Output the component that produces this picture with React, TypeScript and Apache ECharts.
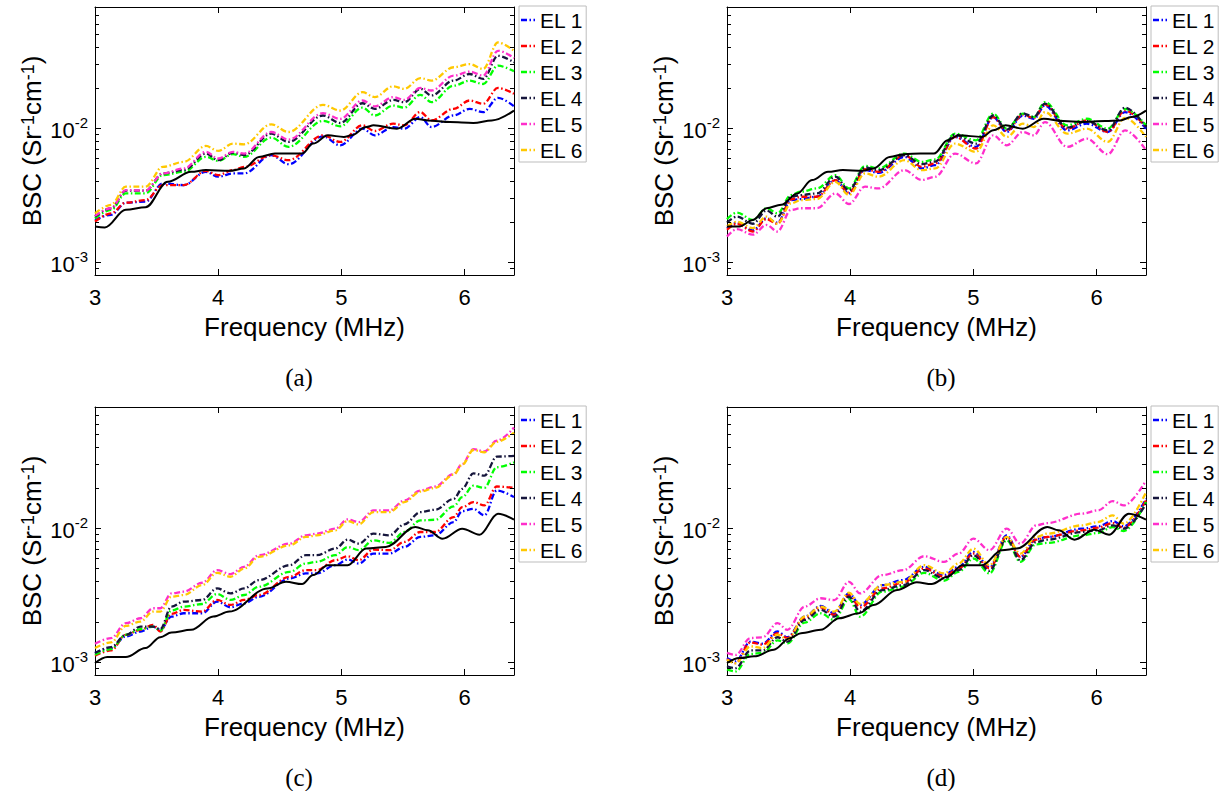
import React, { useEffect, useRef } from 'react';
import * as echarts from 'echarts';

const FONT = '"Liberation Sans", Arial, Helvetica, sans-serif';
const SERIF = '"Liberation Serif", "DejaVu Serif", serif';

const SERIES_NAMES = ['EL 1', 'EL 2', 'EL 3', 'EL 4', 'EL 5', 'EL 6'];
const SERIES_COLORS = ['#0000ff', '#ff0000', '#00ff00', '#16163c', '#ff2ecb', '#ffc800'];
const REF_NAME = 'Reference';
const X_MIN = 3;
const X_MAX = 6.4;
const Y_MIN = 0.0008;
const Y_MAX = 0.08;
const MINOR_TICKS = [9e-4, 2e-3, 3e-3, 4e-3, 5e-3, 6e-3, 7e-3, 8e-3, 9e-3, 2e-2, 3e-2, 4e-2, 5e-2, 6e-2, 7e-2];
const CAPTIONS = ['(a)', '(b)', '(c)', '(d)'];

// ---------- panel (a) ----------
const fA = [3.00, 3.13, 3.25, 3.41, 3.55, 3.72, 3.90, 4.00, 4.12, 4.21, 4.43, 4.57, 4.85, 4.99, 5.17, 5.27, 5.42, 5.51, 5.64, 5.73, 5.91, 6.04, 6.15, 6.27, 6.40];
const A_EL1 = [2.06e-3, 2.25e-3, 2.77e-3, 2.82e-3, 3.86e-3, 3.75e-3, 4.71e-3, 4.33e-3, 4.58e-3, 4.58e-3, 6.27e-3, 5.37e-3, 8.67e-3, 7.43e-3, 9.89e-3, 8.82e-3, 10.17e-3, 9.89e-3, 12.07e-3, 10.17e-3, 12.4e-3, 13.9e-3, 13.15e-3, 16.8e-3, 14.5e-3];
const A_EL2 = [2.00e-3, 2.31e-3, 2.77e-3, 2.90e-3, 3.75e-3, 3.75e-3, 4.79e-3, 4.45e-3, 4.85e-3, 5.13e-3, 6.27e-3, 5.75e-3, 8.82e-3, 7.87e-3, 10.47e-3, 9.50e-3, 10.77e-3, 10.47e-3, 13.15e-3, 11.4e-3, 13.9e-3, 16.05e-3, 15.16e-3, 19.9e-3, 18.0e-3];
const A_EL3 = [2.12e-3, 2.45e-3, 3.25e-3, 3.25e-3, 4.45e-3, 4.71e-3, 6.09e-3, 5.69e-3, 6.38e-3, 6.09e-3, 8.48e-3, 7.23e-3, 11.3e-3, 10.3e-3, 14.2e-3, 12.4e-3, 14.7e-3, 14.2e-3, 17.7e-3, 15.6e-3, 20.7e-3, 22.6e-3, 21.3e-3, 29.2e-3, 26.5e-3];
const A_EL4 = [2.18e-3, 2.52e-3, 3.41e-3, 3.41e-3, 4.58e-3, 4.85e-3, 6.45e-3, 5.75e-3, 6.56e-3, 6.27e-3, 9.08e-3, 7.87e-3, 12.4e-3, 10.9e-3, 15.3e-3, 13.9e-3, 16.2e-3, 15.6e-3, 19.6e-3, 17.5e-3, 22.6e-3, 25.3e-3, 23.25e-3, 34.6e-3, 30.9e-3];
const A_EL5 = [2.21e-3, 2.52e-3, 3.44e-3, 3.41e-3, 4.58e-3, 4.99e-3, 6.64e-3, 5.92e-3, 6.64e-3, 6.45e-3, 9.34e-3, 8.19e-3, 12.9e-3, 11.7e-3, 16.05e-3, 14.5e-3, 17.0e-3, 16.2e-3, 19.9e-3, 19.05e-3, 24.6e-3, 26.35e-3, 24.6e-3, 37.7e-3, 33.3e-3];
const A_EL6 = [2.31e-3, 2.67e-3, 3.65e-3, 3.65e-3, 5.13e-3, 5.59e-3, 7.35e-3, 6.75e-3, 7.65e-3, 7.56e-3, 10.65e-3, 9.34e-3, 14.9e-3, 13.5e-3, 18.5e-3, 17.0e-3, 20.5e-3, 19.6e-3, 23.6e-3, 22.6e-3, 28.4e-3, 30.0e-3, 27.6e-3, 43.5e-3, 37.7e-3];
const fA_ref = [3.00, 3.08, 3.25, 3.41, 3.59, 3.78, 3.90, 4.09, 4.21, 4.33, 4.46, 4.68, 4.77, 4.89, 5.02, 5.08, 5.20, 5.26, 5.45, 5.60, 5.70, 5.88, 6.07, 6.22, 6.40];
const A_REF = [1.84e-3, 1.81e-3, 2.45e-3, 2.56e-3, 3.97e-3, 4.71e-3, 4.85e-3, 4.79e-3, 4.99e-3, 6.09e-3, 6.45e-3, 6.45e-3, 7.65e-3, 8.82e-3, 8.58e-3, 8.82e-3, 10.17e-3, 10.47e-3, 9.89e-3, 11.73e-3, 11.4e-3, 11.08e-3, 10.9e-3, 11.4e-3, 13.5e-3];

// ---------- panel (b) ----------
const fB = [3.00, 3.08, 3.21, 3.32, 3.41, 3.52, 3.60, 3.73, 3.88, 3.99, 4.12, 4.23, 4.44, 4.58, 4.69, 4.85, 5.02, 5.16, 5.27, 5.40, 5.49, 5.58, 5.76, 5.92, 6.09, 6.23, 6.40];
const B_EL1 = [1.79e-3, 1.97e-3, 1.72e-3, 2.12e-3, 1.97e-3, 2.90e-3, 2.95e-3, 3.07e-3, 4.09e-3, 3.25e-3, 4.85e-3, 4.63e-3, 6.09e-3, 4.99e-3, 5.28e-3, 8.58e-3, 7.23e-3, 12.07e-3, 9.34e-3, 12.4e-3, 11.73e-3, 14.7e-3, 9.61e-3, 10.77e-3, 9.34e-3, 13.15e-3, 9.89e-3];
const B_EL2 = [1.74e-3, 1.93e-3, 1.69e-3, 2.09e-3, 1.93e-3, 2.94e-3, 3.07e-3, 3.07e-3, 4.09e-3, 3.29e-3, 4.93e-3, 4.71e-3, 6.27e-3, 5.13e-3, 5.44e-3, 8.58e-3, 7.02e-3, 12.07e-3, 9.50e-3, 12.6e-3, 11.9e-3, 15.0e-3, 9.89e-3, 11.4e-3, 9.34e-3, 13.5e-3, 10.17e-3];
const B_EL3 = [2.09e-3, 2.34e-3, 2.06e-3, 2.52e-3, 2.31e-3, 3.16e-3, 3.35e-3, 3.54e-3, 4.45e-3, 3.54e-3, 5.22e-3, 4.99e-3, 6.45e-3, 5.59e-3, 5.82e-3, 9.08e-3, 8.10e-3, 12.8e-3, 9.89e-3, 12.8e-3, 12.07e-3, 15.6e-3, 10.47e-3, 11.73e-3, 9.89e-3, 13.9e-3, 10.47e-3];
const B_EL4 = [1.97e-3, 2.18e-3, 1.93e-3, 2.42e-3, 2.18e-3, 3.07e-3, 3.16e-3, 3.25e-3, 4.33e-3, 3.44e-3, 5.08e-3, 4.85e-3, 6.27e-3, 5.37e-3, 5.62e-3, 8.92e-3, 7.65e-3, 12.4e-3, 9.72e-3, 12.9e-3, 12.07e-3, 15.2e-3, 10.06e-3, 11.27e-3, 9.61e-3, 14.2e-3, 10.17e-3];
const B_EL5 = [1.55e-3, 1.76e-3, 1.60e-3, 1.89e-3, 1.69e-3, 2.45e-3, 2.52e-3, 2.52e-3, 3.25e-3, 2.71e-3, 3.65e-3, 3.54e-3, 4.85e-3, 4.09e-3, 4.33e-3, 6.45e-3, 5.44e-3, 8.82e-3, 7.43e-3, 9.34e-3, 8.82e-3, 11.08e-3, 7.23e-3, 8.33e-3, 6.38e-3, 9.61e-3, 6.83e-3];
const B_EL6 = [1.84e-3, 2.00e-3, 1.79e-3, 2.18e-3, 1.93e-3, 2.74e-3, 2.90e-3, 2.95e-3, 3.97e-3, 3.16e-3, 4.58e-3, 4.33e-3, 5.75e-3, 4.85e-3, 4.99e-3, 7.65e-3, 6.64e-3, 10.47e-3, 8.58e-3, 10.77e-3, 10.17e-3, 13.15e-3, 9.08e-3, 9.89e-3, 7.87e-3, 11.9e-3, 8.58e-3];
const fB_ref = [3.00, 3.10, 3.21, 3.32, 3.44, 3.57, 3.69, 3.82, 3.94, 4.10, 4.19, 4.32, 4.44, 4.57, 4.68, 4.79, 4.88, 5.07, 5.16, 5.26, 5.40, 5.57, 5.73, 5.88, 6.07, 6.19, 6.28, 6.40];
const B_REF = [1.84e-3, 1.84e-3, 2.06e-3, 2.52e-3, 2.67e-3, 3.25e-3, 4.09e-3, 4.71e-3, 4.85e-3, 4.79e-3, 4.99e-3, 6.09e-3, 6.38e-3, 6.45e-3, 6.45e-3, 8.10e-3, 8.82e-3, 8.58e-3, 9.61e-3, 10.47e-3, 9.89e-3, 11.73e-3, 11.27e-3, 11.08e-3, 11.27e-3, 11.4e-3, 12.07e-3, 13.5e-3];

// ---------- panel (c) ----------
const fC = [3.00, 3.13, 3.25, 3.37, 3.47, 3.53, 3.62, 3.72, 3.87, 3.99, 4.10, 4.21, 4.33, 4.58, 4.71, 4.80, 4.95, 5.05, 5.14, 5.26, 5.39, 5.51, 5.64, 5.76, 5.91, 5.98, 6.07, 6.16, 6.26, 6.40];
const C_EL1 = [1.166e-3, 1.27e-3, 1.551e-3, 1.689e-3, 1.84e-3, 1.739e-3, 2.184e-3, 2.311e-3, 2.311e-3, 2.821e-3, 2.561e-3, 2.743e-3, 3.07e-3, 4.206e-3, 4.58e-3, 4.58e-3, 5.28e-3, 5.82e-3, 5.435e-3, 6.448e-3, 6.448e-3, 7.225e-3, 8.58e-3, 8.82e-3, 11.08e-3, 13.37e-3, 13.92e-3, 12.42e-3, 19.05e-3, 17.0e-3];
const C_EL2 = [1.114e-3, 1.221e-3, 1.595e-3, 1.739e-3, 1.894e-3, 1.689e-3, 2.285e-3, 2.447e-3, 2.378e-3, 2.904e-3, 2.665e-3, 2.904e-3, 3.162e-3, 4.327e-3, 4.849e-3, 4.849e-3, 5.754e-3, 6.16e-3, 5.754e-3, 6.905e-3, 6.83e-3, 7.87e-3, 9.34e-3, 9.34e-3, 12.07e-3, 14.3e-3, 15.6e-3, 14.74e-3, 20.4e-3, 19.93e-3];
const C_EL3 = [1.134e-3, 1.249e-3, 1.595e-3, 1.758e-3, 1.84e-3, 1.719e-3, 2.42e-3, 2.59e-3, 2.71e-3, 3.217e-3, 2.904e-3, 3.162e-3, 3.647e-3, 4.713e-3, 5.435e-3, 5.591e-3, 6.266e-3, 7.225e-3, 6.83e-3, 8.10e-3, 7.74e-3, 9.34e-3, 11.4e-3, 11.53e-3, 14.49e-3, 17.0e-3, 20.7e-3, 19.93e-3, 28.4e-3, 30.9e-3];
const C_EL4 = [1.166e-3, 1.292e-3, 1.595e-3, 1.84e-3, 1.84e-3, 1.758e-3, 2.59e-3, 2.821e-3, 2.904e-3, 3.544e-3, 3.253e-3, 3.544e-3, 4.09e-3, 5.28e-3, 6.266e-3, 6.266e-3, 7.02e-3, 8.19e-3, 7.65e-3, 9.08e-3, 8.82e-3, 10.65e-3, 13.15e-3, 13.68e-3, 16.5e-3, 19.6e-3, 25.6e-3, 24.6e-3, 34.1e-3, 34.6e-3];
const C_EL5 = [1.368e-3, 1.507e-3, 1.948e-3, 2.122e-3, 2.518e-3, 2.518e-3, 3.253e-3, 3.348e-3, 3.905e-3, 4.849e-3, 4.529e-3, 5.132e-3, 6.266e-3, 7.65e-3, 8.82e-3, 9.08e-3, 9.886e-3, 11.6e-3, 11.08e-3, 13.53e-3, 13.53e-3, 16.05e-3, 19.05e-3, 20.4e-3, 25.3e-3, 30.0e-3, 38.8e-3, 37.3e-3, 44.8e-3, 56.2e-3];
const C_EL6 = [1.27e-3, 1.40e-3, 1.861e-3, 2.004e-3, 2.378e-3, 2.378e-3, 3.07e-3, 3.162e-3, 3.752e-3, 4.63e-3, 4.327e-3, 4.989e-3, 6.09e-3, 7.43e-3, 8.58e-3, 8.82e-3, 9.61e-3, 11.27e-3, 10.65e-3, 13.15e-3, 13.15e-3, 15.6e-3, 18.7e-3, 19.93e-3, 25.0e-3, 29.7e-3, 38.2e-3, 36.7e-3, 44.0e-3, 51.6e-3];
const fC_ref = [3.00, 3.10, 3.25, 3.41, 3.53, 3.62, 3.78, 3.96, 4.09, 4.40, 4.55, 4.68, 4.77, 4.89, 5.05, 5.20, 5.36, 5.60, 5.70, 5.82, 5.98, 6.12, 6.27, 6.40];
const C_REF = [0.983e-3, 1.089e-3, 1.089e-3, 1.27e-3, 1.533e-3, 1.661e-3, 1.739e-3, 2.184e-3, 2.378e-3, 3.544e-3, 3.972e-3, 3.816e-3, 4.452e-3, 5.28e-3, 5.28e-3, 7.02e-3, 7.225e-3, 10.17e-3, 9.61e-3, 8.33e-3, 9.886e-3, 8.92e-3, 12.8e-3, 11.53e-3];

// ---------- panel (d) ----------
const fD = [3.00, 3.07, 3.19, 3.29, 3.41, 3.49, 3.63, 3.76, 3.87, 3.99, 4.08, 4.26, 4.43, 4.60, 4.76, 4.88, 5.00, 5.13, 5.27, 5.38, 5.51, 5.60, 5.88, 6.01, 6.13, 6.22, 6.40];
const D_EL1 = [1.07e-3, 1.01e-3, 1.42e-3, 1.37e-3, 1.69e-3, 1.53e-3, 2.18e-3, 2.62e-3, 2.31e-3, 3.25e-3, 2.67e-3, 3.75e-3, 4.09e-3, 5.13e-3, 4.45e-3, 5.13e-3, 6.64e-3, 5.13e-3, 8.82e-3, 6.09e-3, 8.33e-3, 8.58e-3, 9.89e-3, 10.29e-3, 11.27e-3, 10.29e-3, 16.5e-3];
const D_EL2 = [1.05e-3, 0.98e-3, 1.40e-3, 1.35e-3, 1.64e-3, 1.51e-3, 2.12e-3, 2.56e-3, 2.25e-3, 3.16e-3, 2.56e-3, 3.54e-3, 3.91e-3, 4.99e-3, 4.33e-3, 4.99e-3, 6.45e-3, 4.99e-3, 8.58e-3, 6.09e-3, 8.19e-3, 8.58e-3, 9.61e-3, 10.06e-3, 10.89e-3, 10.06e-3, 16.05e-3];
const D_EL3 = [0.88e-3, 0.85e-3, 1.15e-3, 1.17e-3, 1.45e-3, 1.38e-3, 1.97e-3, 2.31e-3, 2.06e-3, 2.95e-3, 2.18e-3, 3.35e-3, 3.65e-3, 4.63e-3, 4.04e-3, 4.71e-3, 5.92e-3, 4.58e-3, 8.10e-3, 5.59e-3, 7.56e-3, 7.74e-3, 8.82e-3, 9.18e-3, 10.17e-3, 9.50e-3, 15.6e-3];
const D_EL4 = [0.93e-3, 0.90e-3, 1.22e-3, 1.22e-3, 1.53e-3, 1.42e-3, 2.06e-3, 2.45e-3, 2.18e-3, 3.07e-3, 2.38e-3, 3.44e-3, 3.75e-3, 4.85e-3, 4.21e-3, 4.85e-3, 6.27e-3, 4.79e-3, 8.33e-3, 5.75e-3, 7.87e-3, 8.19e-3, 9.34e-3, 9.61e-3, 10.47e-3, 9.89e-3, 15.16e-3];
const D_EL5 = [1.17e-3, 1.13e-3, 1.51e-3, 1.53e-3, 1.95e-3, 1.74e-3, 2.59e-3, 2.99e-3, 2.90e-3, 3.97e-3, 3.25e-3, 4.45e-3, 4.85e-3, 6.16e-3, 5.59e-3, 6.45e-3, 8.33e-3, 6.83e-3, 9.89e-3, 7.65e-3, 10.47e-3, 10.89e-3, 12.8e-3, 13.53e-3, 15.86e-3, 14.74e-3, 22.6e-3];
const D_EL6 = [1.04e-3, 0.98e-3, 1.31e-3, 1.27e-3, 1.60e-3, 1.48e-3, 2.18e-3, 2.59e-3, 2.38e-3, 3.29e-3, 2.71e-3, 3.75e-3, 3.97e-3, 5.28e-3, 4.58e-3, 5.44e-3, 7.02e-3, 5.28e-3, 8.58e-3, 6.45e-3, 8.58e-3, 9.08e-3, 10.47e-3, 11.08e-3, 12.42e-3, 10.77e-3, 18.5e-3];
const fD_ref = [3.00, 3.10, 3.22, 3.38, 3.51, 3.60, 3.76, 3.91, 4.07, 4.19, 4.38, 4.54, 4.66, 4.79, 4.91, 5.07, 5.23, 5.35, 5.60, 5.69, 5.82, 5.98, 6.10, 6.26, 6.40];
const D_REF = [0.983e-3, 1.071e-3, 1.102e-3, 1.235e-3, 1.507e-3, 1.642e-3, 1.739e-3, 2.122e-3, 2.311e-3, 2.665e-3, 3.444e-3, 3.93e-3, 3.816e-3, 4.327e-3, 5.28e-3, 5.28e-3, 6.83e-3, 7.02e-3, 10.17e-3, 9.61e-3, 8.19e-3, 9.72e-3, 8.92e-3, 12.8e-3, 11.53e-3];

const PANELS = [
  { freq: fA, values: [A_EL1, A_EL2, A_EL3, A_EL4, A_EL5, A_EL6], refFreq: fA_ref, ref: A_REF },
  { freq: fB, values: [B_EL1, B_EL2, B_EL3, B_EL4, B_EL5, B_EL6], refFreq: fB_ref, ref: B_REF },
  { freq: fC, values: [C_EL1, C_EL2, C_EL3, C_EL4, C_EL5, C_EL6], refFreq: fC_ref, ref: C_REF },
  { freq: fD, values: [D_EL1, D_EL2, D_EL3, D_EL4, D_EL5, D_EL6], refFreq: fD_ref, ref: D_REF },
];

// layout
const GRID_W = 419;
const GRID_H = 268;
const GRID_POS = [
  { left: 95, top: 7 },
  { left: 727, top: 7 },
  { left: 95, top: 407 },
  { left: 727, top: 407 },
];
const CAPTION_POS = [
  { x: 299, y: 377 },
  { x: 941, y: 377 },
  { x: 299, y: 777 },
  { x: 941, y: 777 },
];
const DASH_DOT = [6, 2.5, 1.5, 2.5];
// dash-dot legend sample: dash, dot, short dash
const LEGEND_ICON = 'path://M0,0H6V2.4H0Z M8.5,0H10V2.4H8.5Z M12.5,0H14V2.4H12.5Z';

function buildOption() {
  const grid: any[] = [];
  const xAxis: any[] = [];
  const yAxis: any[] = [];
  const series: any[] = [];
  const legend: any[] = [];
  const graphic: any[] = [];

  const axisLine = { show: true, onZero: false, lineStyle: { color: '#000', width: 1 } };
  const tick = { show: true, inside: true, length: 6, lineStyle: { color: '#000', width: 1 } };

  PANELS.forEach((p, i) => {
    const g = GRID_POS[i];
    grid.push({ left: g.left, top: g.top, width: GRID_W, height: GRID_H, containLabel: false, outerBoundsMode: 'none', show: false });

    xAxis.push({
      type: 'value', gridIndex: i, position: 'bottom', min: X_MIN, max: X_MAX, interval: 1,
      axisLine, axisTick: tick, splitLine: { show: false },
      axisLabel: { show: true, showMinLabel: true, showMaxLabel: false, margin: 11, fontSize: 22, lineHeight: 22, color: '#000', fontFamily: FONT },
      name: 'Frequency (MHz)', nameLocation: 'middle', nameGap: 39,
      nameTextStyle: { fontSize: 26, lineHeight: 26, color: '#000', fontFamily: FONT },
    });
    xAxis.push({
      type: 'value', gridIndex: i, position: 'top', min: X_MIN, max: X_MAX, interval: 1,
      axisLine, axisTick: tick, splitLine: { show: false }, axisLabel: { show: false },
    });
    yAxis.push({
      type: 'log', logBase: 10, gridIndex: i, position: 'left', min: Y_MIN, max: Y_MAX,
      axisLine, axisTick: tick, splitLine: { show: false }, minorTick: { show: false },
      axisLabel: {
        show: true, showMinLabel: false, showMaxLabel: false, margin: 7, color: '#000', fontFamily: FONT,
        formatter: (v: number) => `{b|10}{s|${Math.round(Math.log10(v))}}`,
        rich: {
          b: { fontSize: 22, lineHeight: 22, padding: [14, 0, 0, 0], verticalAlign: 'bottom', color: '#000', fontFamily: FONT },
          s: { fontSize: 15, lineHeight: 26, verticalAlign: 'top', color: '#000', fontFamily: FONT },
        },
      },
      name: '{n|BSC (Sr}{s|-1}{n|cm}{s|-1}{n|)}', nameLocation: 'middle', nameRotate: 90, nameGap: 50,
      nameTextStyle: {
        color: '#000', fontFamily: FONT,
        rich: {
          n: { fontSize: 26, lineHeight: 26, padding: [12, 0, 0, 0], verticalAlign: 'bottom', color: '#000', fontFamily: FONT },
          s: { fontSize: 18, lineHeight: 18, verticalAlign: 'top', color: '#000', fontFamily: FONT },
        },
      },
    });
    yAxis.push({
      type: 'log', logBase: 10, gridIndex: i, position: 'right', min: Y_MIN, max: Y_MAX,
      axisLine, axisTick: tick, splitLine: { show: false }, axisLabel: { show: false },
    });

    // minor log ticks on left and right sides
    series.push({
      type: 'custom', name: 'minor-ticks-' + i, xAxisIndex: 2 * i, yAxisIndex: 2 * i, silent: true, z: 5,
      data: MINOR_TICKS.map((v) => [X_MIN, v]),
      renderItem: (params: any, api: any) => {
        const pt = api.coord([api.value(0), api.value(1)]);
        const cs = params.coordSys;
        const y = Math.round(pt[1]) + 0.5;
        return {
          type: 'group',
          children: [
            { type: 'line', shape: { x1: cs.x, y1: y, x2: cs.x + 4, y2: y }, style: { stroke: '#000', lineWidth: 1 } },
            { type: 'line', shape: { x1: cs.x + cs.width - 4, y1: y, x2: cs.x + cs.width, y2: y }, style: { stroke: '#000', lineWidth: 1 } },
          ],
        };
      },
    });

    p.values.forEach((vals, k) => {
      series.push({
        type: 'line', name: SERIES_NAMES[k], xAxisIndex: 2 * i, yAxisIndex: 2 * i,
        data: p.freq.map((f, j) => [f, vals[j]]),
        symbol: 'none', showSymbol: false, smooth: 0.35, smoothMonotone: 'x',
        color: SERIES_COLORS[k],
        itemStyle: { color: SERIES_COLORS[k] },
        lineStyle: { color: SERIES_COLORS[k], width: 2.3, type: DASH_DOT },
        z: 2 + k * 0.01,
        silent: true,
      });
    });
    series.push({
      type: 'line', name: REF_NAME, xAxisIndex: 2 * i, yAxisIndex: 2 * i,
      data: p.refFreq.map((f, j) => [f, p.ref[j]]),
      symbol: 'none', showSymbol: false, smooth: 0.35, smoothMonotone: 'x',
      color: '#000', itemStyle: { color: '#000' },
      lineStyle: { color: '#000', width: 2, type: 'solid' },
      z: 3, silent: true,
    });

    legend.push({
      show: true, orient: 'vertical', left: g.left + GRID_W + 5, top: g.top - 1,
      data: SERIES_NAMES.map((n) => ({ name: n, icon: LEGEND_ICON })),
      selectedMode: false,
      itemWidth: 14, itemHeight: 2.4, itemGap: 4, symbolKeepAspect: true,
      padding: [3, 3, 1, 2],
      borderColor: '#bdbdbd', borderWidth: 1, backgroundColor: '#fff', borderRadius: 0,
      textStyle: { fontSize: 21, lineHeight: 22, color: '#000', fontFamily: FONT },
    });

    graphic.push({
      type: 'text', x: CAPTION_POS[i].x, y: CAPTION_POS[i].y, silent: true,
      style: { text: CAPTIONS[i], font: `25px ${SERIF}`, fill: '#000', textAlign: 'center', textVerticalAlign: 'middle' },
    });
  });

  return {
    animation: false,
    backgroundColor: '#fff',
    textStyle: { fontFamily: FONT, color: '#000' },
    grid, xAxis, yAxis, series, legend, graphic,
  };
}

export default function App() {
  const ref = useRef<HTMLDivElement>(null);
  useEffect(() => {
    if (!ref.current) return;
    const chart = echarts.init(ref.current, undefined, { renderer: 'svg' });
    chart.setOption(buildOption() as any);
    return () => chart.dispose();
  }, []);
  return (
    <div
      ref={ref}
      style={{ position: 'fixed', left: 0, top: 0, width: 1224, height: 791, background: '#fff' }}
    />
  );
}
